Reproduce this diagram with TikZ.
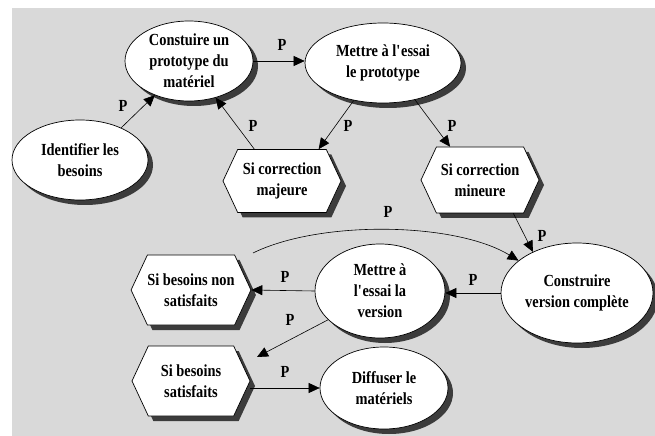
\documentclass[tikz,border=0pt]{standalone}
\usepackage{fontspec}
\newfontfamily\lblfont[FakeStretch=0.85]{Liberation Serif}
\usetikzlibrary{shapes.geometric,shapes.symbols,shadows,arrows.meta}
\definecolor{bggray}{RGB}{217,217,217}
\definecolor{shadowgray}{RGB}{60,60,60}
\begin{document}
\begin{tikzpicture}[x=1bp,y=-1bp,
  txt/.style={font=\lblfont\bfseries\fontsize{17}{21}\selectfont, align=center},
  shade/.style={drop shadow={shadow xshift=5bp, shadow yshift=-5bp, fill=shadowgray, opacity=1}},
  oval/.style={txt, ellipse, draw=black, line width=0.7bp, fill=white, inner sep=0pt, shade},
  hexa/.style={txt, signal, signal to=west and east, signal from=nowhere,
    signal pointer angle=130, draw=black, line width=0.7bp, fill=white, inner sep=0pt,
    minimum width=118bp, shade},
  arr/.style={-{Triangle[length=11bp,width=10bp]}, line width=0.6bp},
  plab/.style={font=\lblfont\bfseries\fontsize{17}{21}\selectfont, inner sep=0pt}]
% backdrop
\useasboundingbox (0,0) rectangle (655,436);
\fill[white] (0,0) rectangle (655,436);
\fill[bggray] (12,8) rectangle (655,436);

% activities (ellipses)
\node[oval, minimum width=128bp, minimum height=80bp] (A) at (189,61) {Constuire un\\prototype du\\matériel};
\node[oval, minimum width=156bp, minimum height=80bp] (B) at (383,63) {Mettre à l\textquotesingle essai\\le prototype};
\node[oval, minimum width=136bp, minimum height=80bp] (C) at (80,160) {Identifier les\\besoins};
\node[oval, minimum width=152bp, minimum height=100bp] (F) at (577,293) {Construire\\version complète};
\node[oval, minimum width=130bp, minimum height=94bp] (G) at (380,291) {Mettre à\\l\textquotesingle essai la\\version};
\node[oval, minimum width=128bp, minimum height=82bp] (J) at (384,388) {Diffuser le\\matériels};

% conditions (hexagons)
\node[hexa, minimum height=63bp] (D) at (282,181) {Si correction\\majeure};
\node[hexa, minimum height=66bp] (E) at (480,180) {Si correction\\mineure};
\node[hexa, minimum height=70bp] (H) at (191,290) {Si besoins non\\satisfaits};
\node[hexa, minimum height=70bp] (I) at (191,381) {Si besoins\\satisfaits};

% free ends
\coordinate (cstart) at (253,253);
\coordinate (gend) at (257,357);

% connectors
\draw[arr] (C.38) -- (A.225);
\draw[arr] (A.east) -- (B.west |- A.east);
\draw[arr] (D.131) -- (A.-54);
\draw[arr] (B.-128) -- (D.41);
\draw[arr] (B.-49) -- (E.132);
\draw[arr] (E.-45) -- (F.137);
\draw[arr] (cstart) .. controls (320,220) and (455,222) .. (F.151);
\draw[arr] (F.west) -- (G.east |- F.west);
\draw[arr] (G.west) -- (H.east);
\draw[arr] (G.-151) -- (gend);
\draw[arr] (I.east |- J.west) -- (J.west);

% labels
\node[plab] (p1) at (123,106) {P};
\node[plab] (p2) at (282,45) {P};
\node[plab] (p3) at (253,126) {P};
\node[plab] (p4) at (348,126) {P};
\node[plab] (p5) at (452,126) {P};
\node[plab] (p6) at (542,236) {P};
\node[plab] (p7) at (388,212) {P};
\node[plab] (p8) at (473,280) {P};
\node[plab] (p9) at (285,277) {P};
\node[plab] (p10) at (290,320) {P};
\node[plab] (p11) at (285,372) {P};
\end{tikzpicture}
\end{document}
